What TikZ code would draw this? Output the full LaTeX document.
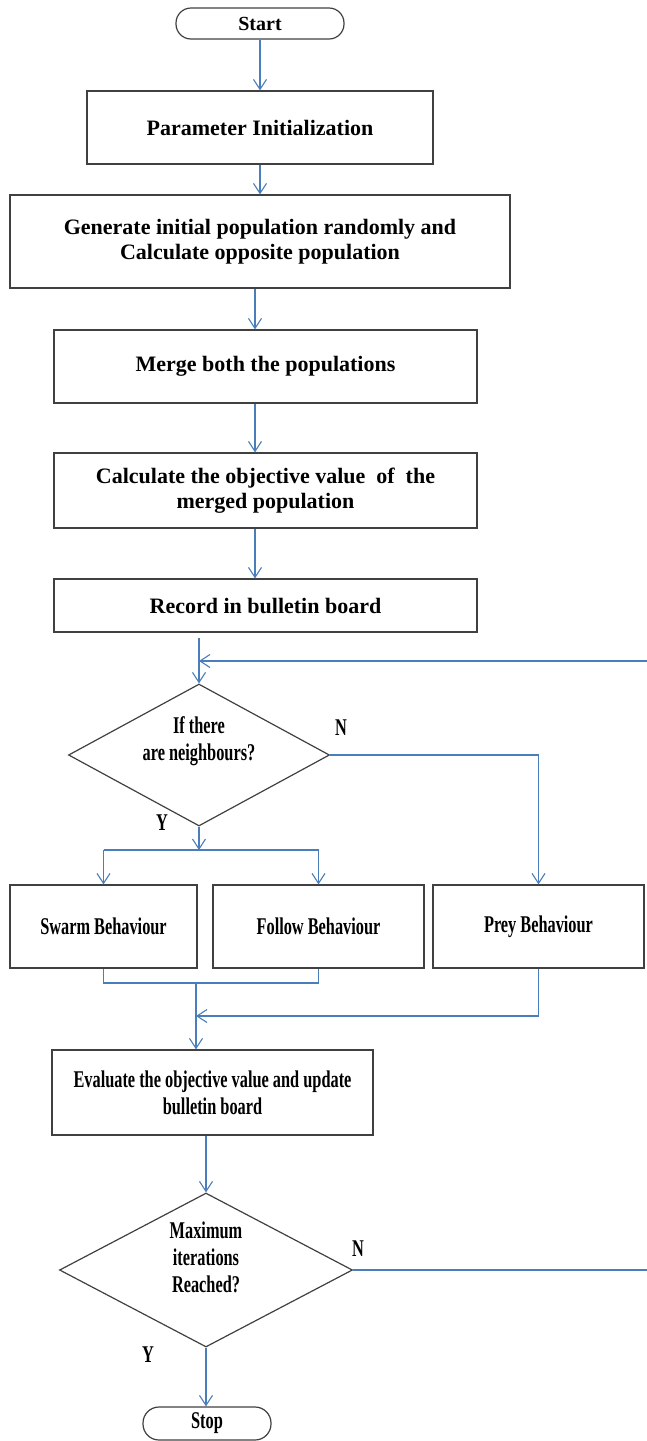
\documentclass[tikz,border=0pt]{standalone}
\usepackage{fontspec}
\setmainfont{Liberation Serif}
\newfontfamily\condfont[FakeStretch=0.68]{Liberation Serif}
\usetikzlibrary{arrows.meta,shapes.geometric}
\definecolor{flowblue}{HTML}{4A7EBB}
\definecolor{boxgray}{HTML}{404040}
\begin{document}
\begin{tikzpicture}[x=1pt,y=-1pt,
  box/.style={draw=boxgray, line width=1.2pt, rectangle, inner sep=0pt, align=center,
    font=\fontsize{22}{25.5}\selectfont\bfseries},
  cbox/.style={draw=boxgray, line width=1.2pt, rectangle, inner sep=0pt, align=center,
    font=\condfont\fontsize{24}{27}\selectfont\bfseries},
  term/.style={draw=boxgray, line width=1.2pt, rectangle, rounded corners=15pt, inner sep=0pt,
    font=\fontsize{20}{24}\selectfont\bfseries},
  cterm/.style={draw=boxgray, line width=1.2pt, rectangle, rounded corners=16pt, inner sep=0pt,
    font=\condfont\fontsize{24}{27}\selectfont\bfseries},
  dia/.style={draw=boxgray, line width=1.2pt, diamond, inner sep=0pt},
  ctext/.style={align=center, inner sep=0pt, font=\condfont\fontsize{24}{27}\selectfont\bfseries},
  flow/.style={draw=flowblue, line width=1.1pt},
  arr/.style={flow, -{Straight Barb[length=10pt,width=13pt]}}]
\useasboundingbox (0,0) rectangle (646,1441);

% column coordinates
\coordinate (colA) at (255,0);
\coordinate (colL) at (199,0);
\coordinate (colE) at (196,0);
\coordinate (colD) at (206,0);
\coordinate (colR) at (648,0);

% nodes
\node[term, minimum width=168pt, minimum height=31pt] (start) at (260,23.5) {Start};
\node[box, minimum width=346pt, minimum height=73pt] (param) at (260,127.5) {Parameter Initialization};
\node[box, minimum width=500pt, minimum height=93pt] (gen) at (260,241.5)
  {Generate initial population randomly and\\Calculate opposite population};
\node[box, minimum width=423pt, minimum height=73pt] (merge) at (265.5,366.5) {Merge both the populations};
\node[box, minimum width=423pt, minimum height=75pt] (calc) at (265.5,490.5)
  {Calculate the objective value\ \ of\ \ the\\merged population};
\node[box, minimum width=423pt, minimum height=53pt] (rec) at (265.5,605.5) {Record in bulletin board};

\node[dia, minimum width=261pt, minimum height=142pt] (d1) at (199,755) {};
\node[ctext] (d1t) at (199,741) {If there\\are neighbours?};
\node[ctext] (n1) at (341,728) {N};
\node[ctext] (y1) at (162,823) {Y};

\node[cbox, minimum width=187pt, minimum height=83pt] (swarm) at (103.5,926.5) {Swarm Behaviour};
\node[cbox, minimum width=211pt, minimum height=83pt] (follow) at (318.5,926.5) {Follow Behaviour};
\node[cbox, minimum width=211pt, minimum height=83pt] (prey) at (538.5,926.5) {Prey Behaviour};

\node[cbox, minimum width=321pt, minimum height=85pt] (eval) at (212.5,1092.5)
  {Evaluate the objective value and update\\bulletin board};

\node[dia, minimum width=293pt, minimum height=154pt] (d2) at (206,1270) {};
\node[ctext] (d2t) at (206,1257) {Maximum\\iterations\\Reached?};
\node[ctext] (n2) at (358,1249) {N};
\node[ctext] (y2) at (148,1355) {Y};

\node[cterm, minimum width=128pt, minimum height=33pt] (stop) at (207,1423.5) {Stop};

% helper coordinates
\coordinate (loopR) at (648,661);
\coordinate (loopIn) at (199,661);
\coordinate (j1) at (199,850);
\coordinate (j2) at (196,983);
\coordinate (j3) at (196,1016);

% connectors
\draw[arr] (start) -- (param);
\draw[arr] (param) -- (gen);
\draw[arr] (gen.south -| colA) -- (merge.north -| colA);
\draw[arr] (merge.south -| colA) -- (calc.north -| colA);
\draw[arr] (calc.south -| colA) -- (rec.north -| colA);
\draw[arr, shorten <=5pt] (rec.south -| colL) -- (d1.north);
\draw[arr] (d2.east) -- (d2.east -| colR) -- (loopR) -- (loopIn);

\draw[arr] (d1.south) -- (j1);
\draw[flow] (swarm.north |- j1) -- (follow.north |- j1);
\draw[arr] (swarm.north |- j1) -- (swarm.north);
\draw[arr] (follow.north |- j1) -- (follow.north);
\draw[arr] (d1.east) -- (d1.east -| prey.north) -- (prey.north);

\draw[flow] (swarm.south) -- (swarm.south |- j2) -- (follow.south |- j2) -- (follow.south);
\draw[arr] (j2) -- (eval.north -| colE);
\draw[arr] (prey.south) -- (prey.south |- j3) -- (j3);

\draw[arr] (eval.south -| colD) -- (d2.north);
\draw[arr] (d2.south) -- (stop.north -| d2.south);
\end{tikzpicture}
\end{document}
